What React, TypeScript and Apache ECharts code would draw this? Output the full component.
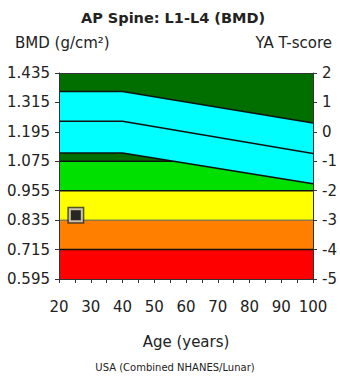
import React, { useEffect, useRef } from "react";
import * as echarts from "echarts";

// ---- data ----
const bandEdges = [0.595, 0.715, 0.835, 0.955, 1.075, 1.435];
const bandColors = ["#ff0000", "#ff8000", "#ffff00", "#00e000", "#006f00"];
const boundaryLines = [0.715, 0.835, 0.955, 1.075];

const refAges = [20, 40, 100];
const refUpper = [1.36, 1.36, 1.231];
const refMean = [1.238, 1.238, 1.107];
const refLower = [1.109, 1.109, 0.983];

const patient = [[25.3, 0.855]];

const bmdTicks = { min: 0.595, max: 1.435, step: 0.12 };
const tTicks = { min: -5, max: 2, step: 1 };
const ageTicks = { min: 20, max: 100, step: 5 };

const FONT = "DejaVu Sans";
const TXT = "#222";

export default function App() {
  const ref = useRef<HTMLDivElement>(null);
  useEffect(() => {
    if (!ref.current) return;
    const chart = echarts.init(ref.current, undefined, { renderer: "svg" });
    const line = (data: number[], name: string) => ({
      type: "line",
      name,
      data: refAges.map((a, i) => [a, data[i]]),
      symbol: "none",
      z: 4,
      silent: true,
      lineStyle: { color: "#111", width: 1.5 },
    });
    chart.setOption({
      animation: false,
      grid: { left: 59, right: 27, top: 73, bottom: 98, containLabel: false },
      graphic: [
        { type: "text", x: 173, y: 18, style: { text: "AP Spine: L1-L4 (BMD)", font: `bold 14.5px '${FONT}'`, fill: TXT, textAlign: "center", textVerticalAlign: "middle" } },
        { type: "text", x: 15, y: 43, style: { text: "BMD (g/cm²)", font: `15px '${FONT}'`, fill: TXT, textAlign: "left", textVerticalAlign: "middle" } },
        { type: "text", x: 332, y: 43, style: { text: "YA T-score", font: `15px '${FONT}'`, fill: TXT, textAlign: "right", textVerticalAlign: "middle" } },
        { type: "text", x: 186, y: 342, style: { text: "Age (years)", font: `15px '${FONT}'`, fill: TXT, textAlign: "center", textVerticalAlign: "middle" } },
        { type: "text", x: 175, y: 367, style: { text: "USA (Combined NHANES/Lunar)", font: `10px '${FONT}'`, fill: TXT, textAlign: "center", textVerticalAlign: "middle" } },
      ],
      xAxis: [
        {
          type: "value",
          min: ageTicks.min,
          max: ageTicks.max,
          interval: ageTicks.step,
          z: 10,
          splitLine: { show: false },
          axisLine: { show: true, onZero: false, lineStyle: { color: "#333", width: 1 } },
          axisTick: { show: true, length: 4, lineStyle: { color: "#333" } },
          axisLabel: {
            margin: 20,
            color: TXT,
            fontFamily: FONT,
            fontSize: 15,
            formatter: (v: number) => (v % 10 === 0 ? String(v) : ""),
          },
        },
        {
          type: "value",
          position: "top",
          min: ageTicks.min,
          max: ageTicks.max,
          z: 10,
          splitLine: { show: false },
          axisLine: { show: true, onZero: false, lineStyle: { color: "#333", width: 1 } },
          axisTick: { show: false },
          axisLabel: { show: false },
        },
      ],
      yAxis: [
        {
          type: "value",
          min: bmdTicks.min,
          max: bmdTicks.max,
          interval: bmdTicks.step,
          z: 10,
          splitLine: { show: false },
          axisLine: { show: true, onZero: false, lineStyle: { color: "#333", width: 1 } },
          axisTick: { show: true, length: 4, lineStyle: { color: "#333" } },
          axisLabel: {
            margin: 9,
            color: TXT,
            fontFamily: FONT,
            fontSize: 15,
            formatter: (v: number) => v.toFixed(3),
          },
        },
        {
          type: "value",
          position: "right",
          min: tTicks.min,
          max: tTicks.max,
          interval: tTicks.step,
          z: 10,
          splitLine: { show: false },
          axisLine: { show: true, onZero: false, lineStyle: { color: "#333", width: 1 } },
          axisTick: { show: true, length: 4, lineStyle: { color: "#333" } },
          axisLabel: { margin: 9, color: TXT, fontFamily: FONT, fontSize: 15 },
        },
      ],
      series: [
        {
          type: "custom",
          z: 1,
          silent: true,
          xAxisIndex: 0,
          yAxisIndex: 0,
          data: bandColors.map((_, i) => [ageTicks.min, bandEdges[i]]),
          renderItem: (params: any, api: any) => {
            const i = params.dataIndex;
            const p1 = api.coord([ageTicks.min, bandEdges[i + 1]]);
            const p2 = api.coord([ageTicks.max, bandEdges[i]]);
            return {
              type: "rect",
              shape: { x: p1[0], y: p1[1], width: p2[0] - p1[0], height: p2[1] - p1[1] },
              style: { fill: bandColors[i] },
            };
          },
        },
        {
          type: "custom",
          z: 2,
          silent: true,
          xAxisIndex: 0,
          yAxisIndex: 0,
          data: boundaryLines.map((b) => [ageTicks.min, b]),
          renderItem: (params: any, api: any) => {
            const b = boundaryLines[params.dataIndex];
            const p1 = api.coord([ageTicks.min, b]);
            const p2 = api.coord([ageTicks.max, b]);
            return {
              type: "line",
              shape: { x1: p1[0], y1: p1[1], x2: p2[0], y2: p2[1] },
              style: { stroke: b === 0.835 ? "#555" : "#111", lineWidth: b === 0.835 ? 1 : 1.5 },
            };
          },
        },
        {
          type: "custom",
          z: 3,
          silent: true,
          xAxisIndex: 0,
          yAxisIndex: 0,
          data: [[refAges[0], refUpper[0]]],
          renderItem: (params: any, api: any) => {
            const pts: number[][] = [];
            refAges.forEach((a, i) => pts.push(api.coord([a, refUpper[i]])));
            for (let i = refAges.length - 1; i >= 0; i--) pts.push(api.coord([refAges[i], refLower[i]]));
            return { type: "polygon", shape: { points: pts }, style: { fill: "#00ffff" } };
          },
        },
        line(refUpper, "upper"),
        line(refMean, "mean"),
        line(refLower, "lower"),
        { type: "scatter", data: patient, symbol: "rect", symbolSize: 17, z: 6, silent: true, itemStyle: { color: "#2a2a2a" } },
        { type: "scatter", data: patient, symbol: "rect", symbolSize: 14, z: 7, silent: true, itemStyle: { color: "#e6dfcf" } },
        { type: "scatter", data: patient, symbol: "rect", symbolSize: 10, z: 8, silent: true, itemStyle: { color: "#000" } },
      ],
    });
    return () => chart.dispose();
  }, []);
  return <div ref={ref} style={{ width: 340, height: 377, position: "absolute", left: 0, top: 0 }} />;
}
